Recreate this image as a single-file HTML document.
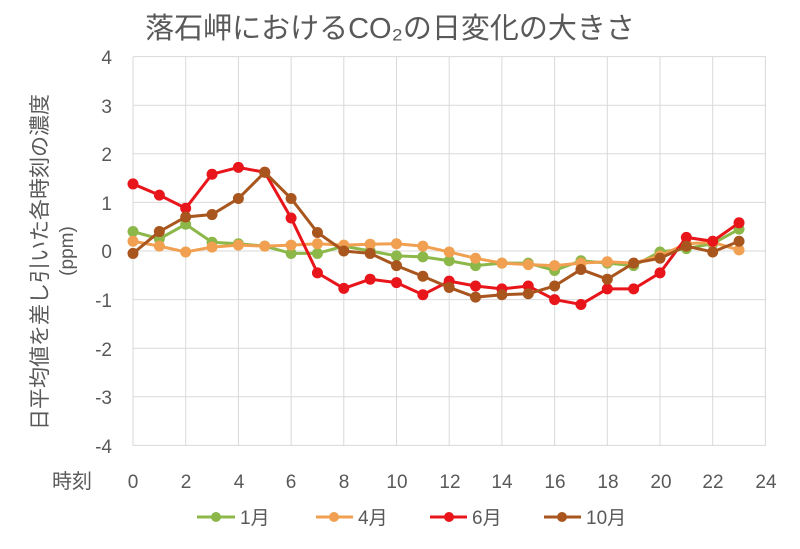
<!DOCTYPE html>
<html><head><meta charset="utf-8"><style>
body{margin:0;background:#fff;width:800px;height:544px;overflow:hidden}
svg text{font-family:"Liberation Sans","Noto Sans CJK JP",sans-serif;fill:#595959}
</style></head><body>
<svg id="s" width="800" height="544" xmlns="http://www.w3.org/2000/svg">
<text x="390" y="38" font-size="29" text-anchor="middle">落石岬におけるCO₂の日変化の大きさ</text>
<g font-size="19" text-anchor="end">
<text x="112" y="64">4</text><text x="112" y="113">3</text><text x="112" y="161">2</text><text x="112" y="210">1</text><text x="112" y="258">0</text><text x="112" y="307">-1</text><text x="112" y="356">-2</text><text x="112" y="404">-3</text><text x="112" y="453">-4</text>
</g>
<g font-size="19" text-anchor="middle">
<text x="133" y="488">0</text><text x="186" y="488">2</text><text x="239" y="488">4</text><text x="291" y="488">6</text><text x="344" y="488">8</text><text x="397" y="488">10</text><text x="450" y="488">12</text><text x="502" y="488">14</text><text x="555" y="488">16</text><text x="608" y="488">18</text><text x="661" y="488">20</text><text x="713" y="488">22</text><text x="766" y="488">24</text>
</g>
<text x="52" y="488" font-size="20">時刻</text>
<text transform="translate(47,262) rotate(-90)" font-size="21" text-anchor="middle">日平均値を差し引いた各時刻の濃度</text>
<text transform="translate(73,251) rotate(-90)" font-size="19" text-anchor="middle">(ppm)</text>
<g id="g"></g>
<g font-size="19">
<line x1="197" y1="517" x2="235" y2="517" stroke="#8cb84a" stroke-width="3"/><circle cx="216" cy="517" r="5" fill="#8cb84a"/><text x="240" y="524">1月</text>
<line x1="316" y1="517" x2="353" y2="517" stroke="#f0a050" stroke-width="3"/><circle cx="334" cy="517" r="5" fill="#f0a050"/><text x="358" y="524">4月</text>
<line x1="430" y1="517" x2="467" y2="517" stroke="#e8151b" stroke-width="3"/><circle cx="449" cy="517" r="5" fill="#e8151b"/><text x="472" y="524">6月</text>
<line x1="544" y1="517" x2="581" y2="517" stroke="#a8561e" stroke-width="3"/><circle cx="562" cy="517" r="5" fill="#a8561e"/><text x="586" y="524">10月</text>
</g>
</svg>
<script>
var g=document.getElementById('g');
function X(h){return 133+h*26.35}function Y(v){return 251-v*48.6}
var h='';
for(var v=-4;v<=4;v++)h+='<line x1="133" x2="766" y1="'+Y(v)+'" y2="'+Y(v)+'" stroke="#d9d9d9" stroke-width="1"/>';
for(var t=0;t<=24;t+=2)h+='<line y1="57" y2="446" x1="'+X(t)+'" x2="'+X(t)+'" stroke="#d9d9d9" stroke-width="1"/>';
var S=[["#8cb84a",[0.4,0.25,0.55,0.18,0.15,0.1,-0.05,-0.05,0.1,0,-0.1,-0.12,-0.2,-0.3,-0.25,-0.25,-0.4,-0.2,-0.25,-0.3,-0.02,0.05,0.15,0.45]],
["#f0a050",[0.2,0.1,-0.02,0.08,0.12,0.1,0.12,0.15,0.12,0.14,0.15,0.1,-0.02,-0.15,-0.25,-0.28,-0.3,-0.25,-0.22,-0.25,-0.1,0.15,0.18,0.02]],
["#e8151b",[1.38,1.15,0.88,1.58,1.72,1.62,0.68,-0.45,-0.77,-0.58,-0.65,-0.9,-0.62,-0.72,-0.78,-0.72,-1.0,-1.1,-0.78,-0.78,-0.45,0.28,0.2,0.58]],
["#a8561e",[-0.05,0.4,0.7,0.75,1.08,1.62,1.08,0.38,0.0,-0.05,-0.3,-0.52,-0.75,-0.95,-0.9,-0.88,-0.72,-0.38,-0.58,-0.25,-0.15,0.1,-0.02,0.2]]];
S.forEach(function(s){var p=s[1].map(function(v,i){return X(i)+','+Y(v)}).join(' ');
h+='<polyline points="'+p+'" fill="none" stroke="'+s[0]+'" stroke-width="3"/>';
s[1].forEach(function(v,i){h+='<circle cx="'+X(i)+'" cy="'+Y(v)+'" r="5.5" fill="'+s[0]+'"/>'});});
g.innerHTML=h;
</script>
</body></html>
